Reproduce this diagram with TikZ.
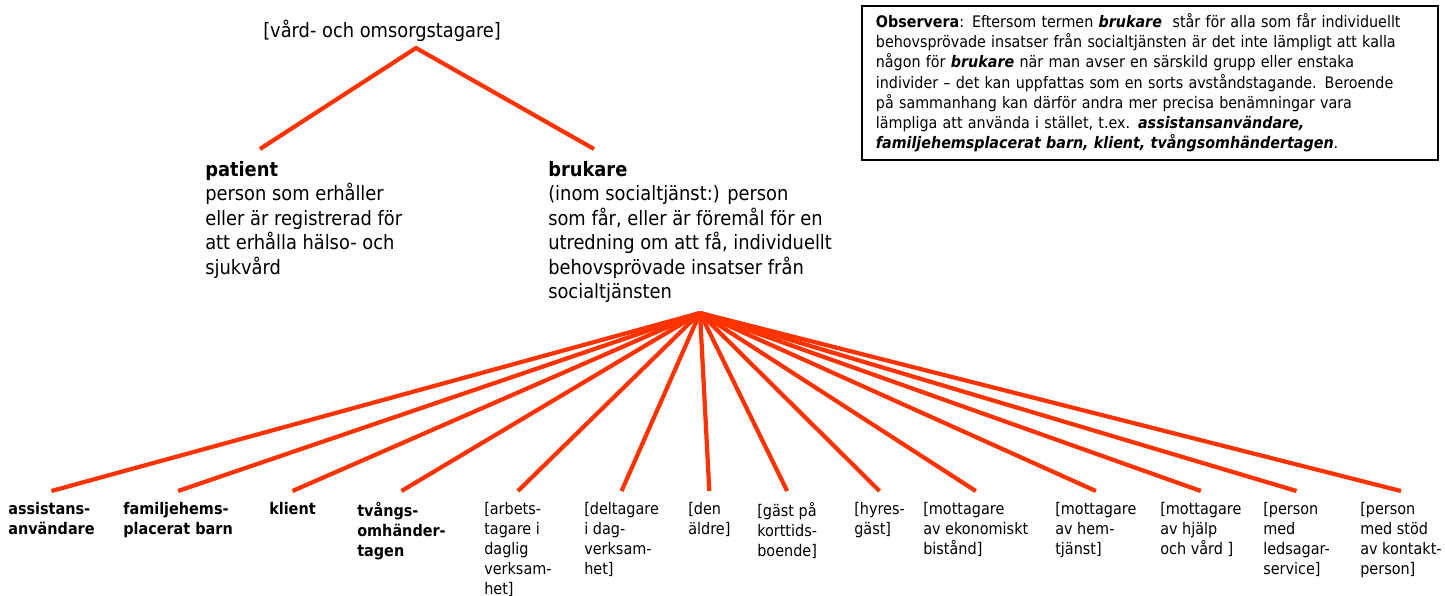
\documentclass[tikz,border=0pt]{standalone}
\usepackage{fontspec}
\setmainfont{DejaVu Sans Condensed}
\usetikzlibrary{positioning}
\definecolor{fanred}{HTML}{FF3300}
\tikzset{
  branch/.style={draw=fanred, line width=3pt},
  term/.style={anchor=north west, align=left, inner sep=0pt,
    font=\fontsize{14.1}{17.4}\selectfont},
  leaf/.style={anchor=north west, align=left, inner xsep=0pt, inner ysep=7.8pt,
    font=\fontsize{11.4}{14.2}\selectfont},
  notebox/.style={anchor=north west, draw, line width=1.3pt, align=left,
    text width=13.7cm, minimum height=3.85cm, inner xsep=0.35cm,
    font=\fontsize{11.3}{14.4}\selectfont},
}
\begin{document}
\begin{tikzpicture}[x=0.025cm, y=-0.025cm]
\useasboundingbox (0,0) rectangle (1445,596);
% upper part
\node[term] (vard) at (263,20) {[vård- och omsorgstagare]};
\node[term] (patient) at (205,161) {\textbf{patient}\\person som erhåller\\eller är registrerad för\\att erhålla hälso- och\\sjukvård};
\node[term] (brukare) at (548,161) {\textbf{brukare}\\(inom socialtjänst:) person\\som får, eller är föremål för en\\utredning om att få, individuellt\\behovsprövade insatser från\\socialtjänsten};
\coordinate (split) at (416,48);
\draw[branch] ([shift={(55,-12)}]patient.north west) -- (split) -- ([shift={(46,-12)}]brukare.north west);
% note
\node[notebox] (note) at (861,5) {\textbf{Observera}: Eftersom termen \textbf{\textit{brukare}}\ \ står för alla som får individuellt\\
behovsprövade insatser från socialtjänsten är det inte lämpligt att kalla\\
någon för \textbf{\textit{brukare}} när man avser en särskild grupp eller enstaka\\
individer – det kan uppfattas som en sorts avståndstagande. Beroende\\
på sammanhang kan därför andra mer precisa benämningar vara\\
lämpliga att använda i stället, t.ex. \textbf{\textit{assistansanvändare,}}\\
\textbf{\textit{familjehemsplacerat barn, klient, tvångsomhändertagen}}.};
% lower part
\coordinate (fan) at (700,313);
\node[leaf] (assistans) at (8,491) {\textbf{assistans-}\\\textbf{användare}};
\node[leaf] (familjehem) at (123,491) {\textbf{familjehems-}\\\textbf{placerat barn}};
\node[leaf] (klient) at (269,491) {\textbf{klient}};
\node[leaf] (tvang) at (357,491) {\textbf{tvångs-}\\\textbf{omhänder-}\\\textbf{tagen}};
\node[leaf] (arbets) at (484,491) {[arbets-\\tagare i\\daglig\\verksam-\\het]};
\node[leaf] (deltagare) at (584,491) {[deltagare\\i dag-\\verksam-\\het]};
\node[leaf] (aldre) at (688,491) {[den\\äldre]};
\node[leaf] (gast) at (757,491) {[gäst på\\korttids-\\boende]};
\node[leaf] (hyres) at (854,491) {[hyres-\\gäst]};
\node[leaf] (ekonomi) at (923,491) {[mottagare\\av ekonomiskt\\bistånd]};
\node[leaf] (hemtjanst) at (1055,491) {[mottagare\\av hem-\\tjänst]};
\node[leaf] (hjalp) at (1160,491) {[mottagare\\av hjälp\\och vård ]};
\node[leaf] (ledsagar) at (1263,491) {[person\\med\\ledsagar-\\service]};
\node[leaf] (kontakt) at (1360,491) {[person\\med stöd\\av kontakt-\\person]};
\foreach \n in {assistans,familjehem,klient,tvang,arbets,deltagare,aldre,gast,hyres,ekonomi,hemtjanst,hjalp,ledsagar,kontakt}
  \draw[branch] (fan) -- (\n.north);
\end{tikzpicture}
\end{document}
